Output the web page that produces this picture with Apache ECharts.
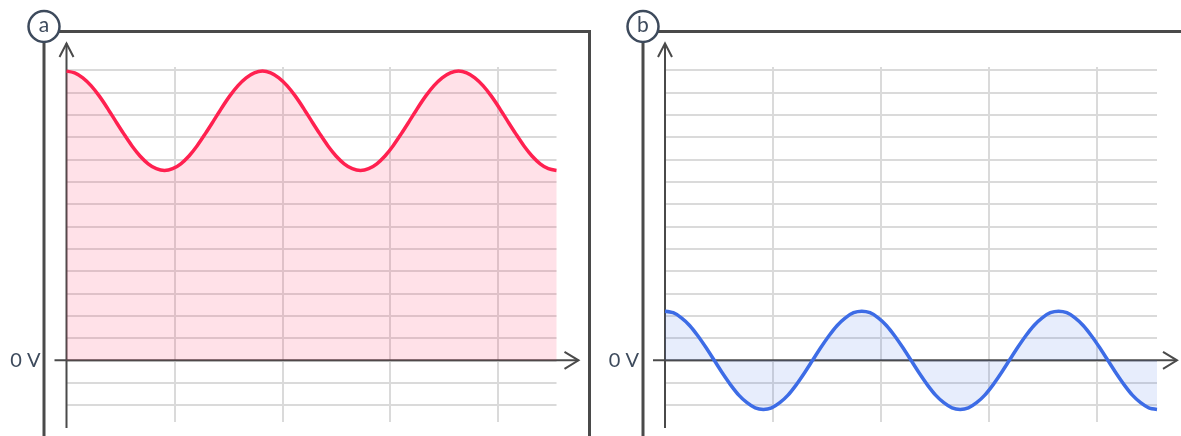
<!DOCTYPE html>
<html>
<head>
<meta charset="utf-8">
<title>Waves a and b</title>
<script src="https://cdn.jsdelivr.net/npm/echarts@6/dist/echarts.min.js"></script>
<style>
  html, body { margin: 0; padding: 0; background: #fff; }
  #main { width: 1181px; height: 436px; }
</style>
</head>
<body>
<div id="main"></div>
<script>
// phase of each sample, 15 degree steps over two and a half periods
var phases = ['0°','15°','30°','45°','60°','75°','90°','105°','120°','135°','150°','165°',
  '180°','195°','210°','225°','240°','255°','270°','285°','300°','315°','330°','345°',
  '360°','375°','390°','405°','420°','435°','450°','465°','480°','495°','510°','525°',
  '540°','555°','570°','585°','600°','615°','630°','645°','660°','675°','690°','705°',
  '720°','735°','750°','765°','780°','795°','810°','825°','840°','855°','870°','885°','900°'];
// panel a: wave riding on a positive offset (grid units)
var waveA = [12.95, 12.87, 12.65, 12.3, 11.84, 11.3, 10.72, 10.15, 9.61, 9.15, 8.8, 8.58,
  8.5, 8.58, 8.8, 9.15, 9.61, 10.15, 10.72, 11.3, 11.84, 12.3, 12.65, 12.87,
  12.95, 12.87, 12.65, 12.3, 11.84, 11.3, 10.72, 10.15, 9.61, 9.15, 8.8, 8.58,
  8.5, 8.58, 8.8, 9.15, 9.61, 10.15, 10.72, 11.3, 11.84, 12.3, 12.65, 12.87,
  12.95, 12.87, 12.65, 12.3, 11.84, 11.3, 10.72, 10.15, 9.61, 9.15, 8.8, 8.58, 8.5];
// panel b: same wave centred on 0 V
var waveB = [2.2, 2.13, 1.9, 1.56, 1.1, 0.57, 0, -0.57, -1.1, -1.56, -1.9, -2.13,
  -2.2, -2.13, -1.9, -1.56, -1.1, -0.57, 0, 0.57, 1.1, 1.56, 1.9, 2.13,
  2.2, 2.13, 1.9, 1.56, 1.1, 0.57, 0, -0.57, -1.1, -1.56, -1.9, -2.13,
  -2.2, -2.13, -1.9, -1.56, -1.1, -0.57, 0, 0.57, 1.1, 1.56, 1.9, 2.13,
  2.2, 2.13, 1.9, 1.56, 1.1, 0.57, 0, -0.57, -1.1, -1.56, -1.9, -2.13, -2.2];
var panelNames = ['a', 'b'];
var zeroLabel = '0 V';

var FONT = 'Lato, "Open Sans", sans-serif';
var INK = '#3d4a5c';
var AXIS = '#4a4a4a';
var GRID = '#dadada';

var panels = [
  { left: 66.5, width: 490, data: waveA, line: '#ff2150', fill: 'rgba(255,33,80,0.19)' },
  { left: 665, width: 492, data: waveB, line: '#3d6ce6', fill: 'rgba(61,108,230,0.18)' }
];

var myChart = echarts.init(document.getElementById('main'));

var grids = [], xAxes = [], yAxes = [], series = [];
panels.forEach(function (p, i) {
  // grid for the curve + horizontal lines
  grids.push({ left: p.left, top: 70, width: p.width, height: 357.3 });
  // grid only for the vertical lines
  grids.push({ left: p.left, top: 67, width: 431.6, height: 355 });

  xAxes.push({
    type: 'category', gridIndex: 2 * i, data: phases, boundaryGap: false, show: false
  });
  xAxes.push({
    type: 'value', gridIndex: 2 * i + 1, min: 0, max: 4, interval: 1,
    axisLine: { show: false }, axisTick: { show: false }, axisLabel: { show: false },
    splitLine: { show: true, showMinLine: false, lineStyle: { color: GRID, width: 2 } }
  });

  yAxes.push({
    type: 'value', gridIndex: 2 * i, min: -3, max: 13, interval: 1,
    axisLine: { show: false }, axisTick: { show: false },
    axisLabel: {
      formatter: function (v) { return v === 0 ? zeroLabel : ''; },
      margin: 26, color: INK, fontSize: 20, fontFamily: FONT,
      padding: [0, 0, 11, 0]
    },
    splitLine: { show: true, showMinLine: false, lineStyle: { color: GRID, width: 2 } }
  });
  yAxes.push({ type: 'value', gridIndex: 2 * i + 1, show: false, min: 0, max: 1 });

  series.push({
    type: 'line', xAxisIndex: 2 * i, yAxisIndex: 2 * i,
    data: p.data, smooth: 0.3, symbol: 'none',
    lineStyle: { color: p.line, width: 3.5 },
    areaStyle: { color: p.fill },
    z: 3
  });
});

myChart.setOption({
  animation: false,
  grid: grids,
  xAxis: xAxes,
  yAxis: yAxes,
  series: series
});

// frames, labels and arrowed axes, anchored at each panel's origin
var graphics = [];
var frames = [
  [[44, 436], [44, 31.5], [589.5, 31.5], [589.5, 436]],
  [[643, 436], [643, 31.5], [1181, 31.5]]
];
panels.forEach(function (p, i) {
  var o = myChart.convertToPixel({ xAxisIndex: 2 * i, yAxisIndex: 2 * i }, [0, 0]);
  var ox = o[0], oy = o[1];
  var lineStyle = { stroke: AXIS, lineWidth: 2, fill: null };

  graphics.push({ type: 'polyline', z: 1, shape: { points: [[ox, 43.5], [ox, 428]] }, style: lineStyle });
  graphics.push({ type: 'polyline', z: 1, shape: { points: [[ox - 7, 57], [ox, 43.5], [ox + 7, 57]] }, style: lineStyle });
  graphics.push({ type: 'polyline', z: 1, shape: { points: [[ox - 12, oy], [ox + 512, oy]] }, style: lineStyle });
  graphics.push({ type: 'polyline', z: 1, shape: { points: [[ox + 498, oy - 8.5], [ox + 512, oy], [ox + 498, oy + 8.5]] }, style: lineStyle });

  var cx = frames[i][0][0];
  graphics.push({ type: 'polyline', z: 10, shape: { points: frames[i] }, style: { stroke: AXIS, lineWidth: 3, fill: null } });
  graphics.push({ type: 'circle', z: 11, shape: { cx: cx, cy: 26.5, r: 15.5 }, style: { fill: '#fff', stroke: INK, lineWidth: 2.5 } });
  graphics.push({
    type: 'text', z: 12, x: cx, y: 25.5,
    style: { text: panelNames[i], align: 'center', verticalAlign: 'middle', fill: INK, fontSize: 21, fontFamily: FONT }
  });
});

myChart.setOption({ graphic: graphics });
</script>
</body>
</html>
